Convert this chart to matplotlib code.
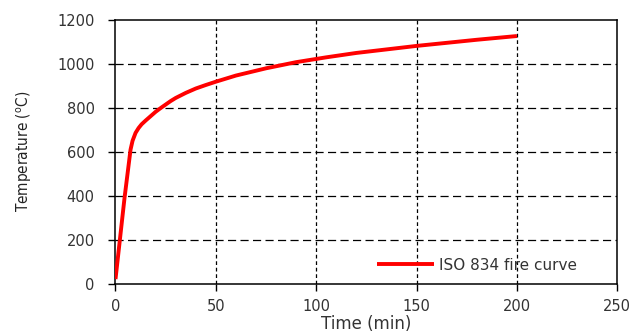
import matplotlib
matplotlib.use("Agg")
import matplotlib.pyplot as plt
from matplotlib import font_manager

# Data
time_min = [0, 4.5, 7.5, 8.5, 10, 11.5, 13, 15, 17.5, 20, 22.5, 25, 27.5, 30, 35, 40, 45, 50, 60,
            75, 90, 105, 120, 135, 150, 165, 180, 200]
temperature_c = [20, 390, 610, 650, 686, 708, 725, 742, 762, 782, 799, 815, 831, 845, 868, 888,
                 904, 919, 947, 980, 1008, 1030, 1050, 1066, 1082, 1096, 1110, 1127]
series_label = "ISO 834 fire curve"
x_ticks = [0, 50, 100, 150, 200, 250]
y_ticks = [0, 200, 400, 600, 800, 1000, 1200]

fig = plt.figure(figsize=(6.36, 3.34), dpi=100)
ax = fig.add_axes([115.5 / 636, 1 - 283.5 / 334, (617.3 - 115.5) / 636, (283.5 - 20) / 334])

ax.plot(time_min, temperature_c, color="#ff0000", lw=2.8, solid_joinstyle="round",
        solid_capstyle="butt", label=series_label, zorder=3)

ax.set_xlim(0, 250)
ax.set_ylim(0, 1200)
ax.set_xticks(x_ticks)
ax.set_yticks(y_ticks)

# grid: different dash patterns for vertical / horizontal lines
ax.xaxis.grid(True, color="black", lw=0.9, linestyle=(0, (3, 2.2)))
ax.yaxis.grid(True, color="black", lw=0.9, linestyle=(0, (6.5, 3.5)))
ax.set_axisbelow(True)
xg = ax.xaxis.get_gridlines()
yg = ax.yaxis.get_gridlines()
for g in (xg[0], xg[-1], yg[0], yg[-1]):
    g.set_visible(False)

for s in ax.spines.values():
    s.set_color("black")
    s.set_linewidth(1.1)

ax.tick_params(axis="both", direction="out", length=5, width=1.0, color="black",
               labelcolor="#333333", labelsize=10.5)
ax.tick_params(axis="y", pad=10)
ax.tick_params(axis="x", pad=6)

ax.set_xlabel("Time (min)", fontsize=12, color="#333333", labelpad=1)

# narrow font for the y label if available
names = {f.name for f in font_manager.fontManager.ttflist}
if "Liberation Sans Narrow" in names:
    yfam, ystretch = ["Liberation Sans Narrow", "DejaVu Sans"], "normal"
else:
    yfam, ystretch = ["DejaVu Sans"], "condensed"
ax.set_ylabel(r"Temperature ($\mathregular{^o}$C)", fontsize=11, color="#222222",
              family=yfam, fontstretch=ystretch, labelpad=17)

leg = ax.legend(loc="center left", bbox_to_anchor=(0.522, 0.07), frameon=False,
                fontsize=11, handlelength=3.7, handletextpad=0.35,
                borderaxespad=0, borderpad=0)
for t in leg.get_texts():
    t.set_color("#333333")

fig.savefig("out.png", dpi=100)
